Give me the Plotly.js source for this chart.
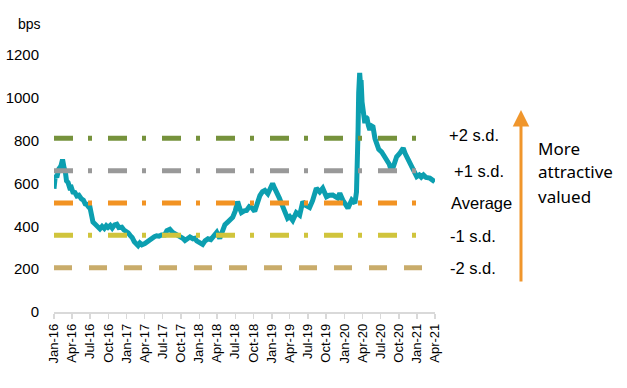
<!DOCTYPE html>
<html>
<head>
<meta charset="utf-8">
<script src="https://cdn.plot.ly/plotly-3.0.1.min.js"></script>
<style>html,body{margin:0;padding:0;background:#fff;}#chart{width:627px;height:388px;}</style>
</head>
<body>
<div id="chart"></div>
<script>
// Spread series (bps)
const dates = [
"2016-01-01","2016-01-08","2016-01-15","2016-01-25","2016-02-05","2016-02-13","2016-02-20","2016-02-27",
"2016-03-04","2016-03-12","2016-03-20","2016-03-28","2016-04-05","2016-04-15","2016-04-25","2016-05-05",
"2016-05-18","2016-05-28","2016-06-06","2016-06-13","2016-06-22","2016-06-29","2016-07-04","2016-07-08",
"2016-07-15","2016-07-24","2016-08-05","2016-08-19","2016-08-30","2016-09-10","2016-09-20","2016-09-29",
"2016-10-10","2016-10-20","2016-11-01","2016-11-12","2016-11-22","2016-12-07","2016-12-18","2016-12-28",
"2017-01-08","2017-01-18","2017-01-28","2017-02-08","2017-02-18","2017-02-27","2017-03-08","2017-03-18",
"2017-04-02","2017-04-12","2017-04-27","2017-05-10","2017-05-20","2017-05-31","2017-06-12","2017-06-25",
"2017-07-11","2017-07-22","2017-08-06","2017-08-20","2017-09-09","2017-09-25","2017-10-10","2017-10-21",
"2017-11-05","2017-11-15","2017-11-30","2017-12-10","2017-12-19","2018-01-05","2018-01-18","2018-01-30",
"2018-02-14","2018-02-28","2018-03-19","2018-03-30","2018-04-14","2018-04-22","2018-04-29","2018-05-10",
"2018-05-24","2018-06-05","2018-06-18","2018-07-01","2018-07-13","2018-07-22","2018-08-01","2018-08-15",
"2018-08-27","2018-09-10","2018-09-21","2018-10-07","2018-10-20","2018-11-02","2018-11-15","2018-11-27",
"2018-12-12","2018-12-25","2019-01-05","2019-01-15","2019-01-25","2019-02-08","2019-02-19","2019-03-05",
"2019-03-21","2019-04-01","2019-04-16","2019-05-04","2019-05-21","2019-06-06","2019-06-20","2019-07-10",
"2019-07-25","2019-08-13","2019-08-30","2019-09-14","2019-10-03","2019-10-18","2019-11-04","2019-11-29",
"2019-12-09","2019-12-24","2020-01-10","2020-01-19","2020-02-07","2020-02-23","2020-03-02","2020-03-06",
"2020-03-10","2020-03-13","2020-03-18","2020-03-23","2020-03-25","2020-03-30","2020-04-04","2020-04-13",
"2020-04-18","2020-04-24","2020-05-01","2020-05-08","2020-05-15","2020-05-24","2020-06-03","2020-06-11",
"2020-06-22","2020-07-06","2020-07-20","2020-08-01","2020-08-14","2020-08-26","2020-09-08","2020-09-20",
"2020-10-05","2020-10-15","2020-10-23","2020-11-02","2020-11-10","2020-11-20","2020-12-04","2020-12-15",
"2020-12-30","2021-01-12","2021-01-22","2021-02-02","2021-02-15","2021-03-06","2021-03-18","2021-03-31"
];
const spread = [
575,640,628,668,682,712,676,655,
612,604,580,582,560,558,542,545,
528,522,505,503,492,494,470,442,
420,412,398,388,400,390,403,395,
404,392,407,410,394,396,383,378,
370,358,348,328,320,310,322,314,
320,328,334,348,352,356,354,360,
360,380,386,372,362,348,344,334,
348,350,342,344,332,326,316,332,
342,338,360,372,344,368,390,408,
420,435,442,472,516,488,464,472,
474,492,488,470,508,544,562,568,
552,584,600,578,552,532,506,472,
438,446,428,464,452,516,498,488,
520,578,561,578,538,545,546,532,
555,523,500,485,523,508,560,663,
850,1022,1116,1050,1083,980,929,882,
910,905,870,850,870,865,810,789,
760,748,725,710,690,655,690,725,
740,755,765,740,725,700,678,650,
632,640,630,640,628,625,615,608
];
// Reference levels
const levelNames = ["+2 s.d.","+1 s.d.","Average","-1 s.d.","-2 s.d."];
const levelValues = [811,660,509,358,207];
const levelColors = ["#76923C","#999999","#F29323","#D0C43C","#C9AC6B"];
const levelStart = "2016-01-01";
const levelEnd = "2021-03-10";
const tickLabelsY = ["0","200","400","600","800","1000","1200"];
const tickValsY = [0,200,400,600,800,1000,1200];
const sideNote = ["More","attractive","valued"];

const sans = '"Liberation Sans", Arial, sans-serif';

const traces = [{
  x: dates, y: spread, type: 'scatter', mode: 'lines',
  line: {color: '#0C9FB0', width: 5}, hoverinfo: 'skip'
}];
levelValues.forEach((v, i) => {
  traces.push({
    x: [levelStart, levelEnd], y: [v, v], type: 'scatter', mode: 'lines',
    line: {color: levelColors[i], width: 5, dash: i === 4 ? '18px,17px' : '19px,15px,4px,16px'},
    hoverinfo: 'skip'
  });
});

const labelPos = [
  {x: 1.0315, y: 0.689}, {x: 1.0446, y: 0.549}, {x: 1.0367, y: 0.424},
  {x: 1.0341, y: 0.296}, {x: 1.0341, y: 0.171}
];
const annotations = levelNames.map((t, i) => ({
  text: t, xref: 'paper', yref: 'paper', x: labelPos[i].x, y: labelPos[i].y,
  xanchor: 'left', yanchor: 'middle', showarrow: false,
  font: {family: sans, size: 16.5, color: '#000'}
}));
annotations.push({
  text: 'bps', xref: 'paper', yref: 'paper', x: -0.1, y: 1.12,
  xanchor: 'left', yanchor: 'middle', showarrow: false,
  font: {family: sans, size: 14, color: '#000'}
});
const noteY = [0.638, 0.545, 0.451];
sideNote.forEach((t, i) => annotations.push({
  text: t, xref: 'paper', yref: 'paper', x: 1.265, y: noteY[i],
  xanchor: 'left', yanchor: 'middle', showarrow: false,
  font: {family: '"Noto Sans", "Open Sans", sans-serif', size: 17, color: '#000'}
}));
annotations.push({
  text: '', xref: 'paper', yref: 'paper', x: 1.2257, y: 0.786,
  ax: 0, ay: 173, axref: 'pixel', ayref: 'pixel',
  showarrow: true, arrowhead: 2, arrowsize: 1.1, arrowwidth: 3, arrowcolor: '#F0962C', standoff: 0
});

const layout = {
  width: 627, height: 388,
  margin: {l: 54, r: 192, t: 55, b: 76},
  paper_bgcolor: '#fff', plot_bgcolor: '#fff',
  showlegend: false,
  xaxis: {
    type: 'date', range: ['2016-01-01', '2021-04-01'],
    tick0: '2016-01-01', dtick: 'M3', tickformat: '%b-%y', tickangle: -90,
    showgrid: false, zeroline: false, showline: true, linecolor: '#D9D9D9', linewidth: 1.5,
    ticks: 'outside', ticklen: 5, tickcolor: '#D9D9D9', tickwidth: 1.5,
    tickfont: {family: sans, size: 13, color: '#000'}, fixedrange: true
  },
  yaxis: {
    range: [0, 1200], tickvals: tickValsY, ticktext: tickLabelsY,
    showgrid: false, zeroline: false, showline: false, ticks: '',
    ticklabelstandoff: 14,
    tickfont: {family: sans, size: 15, color: '#000'}, fixedrange: true
  },
  annotations: annotations
};

Plotly.newPlot('chart', traces, layout, {displayModeBar: false, staticPlot: true});
</script>
</body>
</html>
